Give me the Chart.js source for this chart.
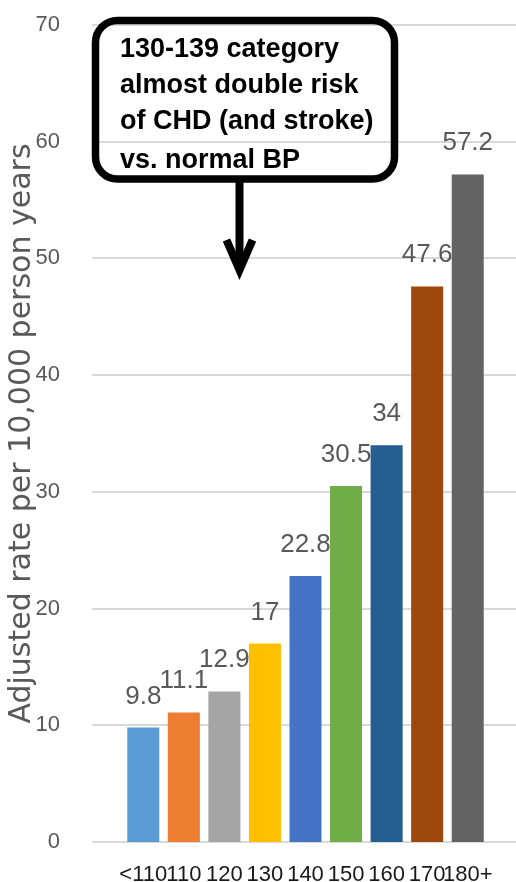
<!DOCTYPE html>
<html><head><meta charset="utf-8">
<script src="https://cdn.jsdelivr.net/npm/chart.js@4/dist/chart.umd.min.js"></script>
<style>html,body{margin:0;padding:0;background:#fff;overflow:hidden}#wrap{width:516px;height:882px;position:relative}canvas{display:block}</style>
</head><body><div id="wrap"><canvas id="c" width="516" height="882"></canvas></div>
<script>
const categories = ['<110', '110', '120', '130', '140', '150', '160', '170', '180+'];
const rates = [9.8, 11.1, 12.9, 17, 22.8, 30.5, 34, 47.6, 57.2];
const barColors = ['#5B9BD5', '#ED7D31', '#A5A5A5', '#FFC000', '#4472C4', '#70AD47', '#255E91', '#9E480E', '#636363'];
const yTicks = [0, 10, 20, 30, 40, 50, 60, 70];
const axisTitle = 'Adjusted rate per 10,000 person years';
const calloutLines = ['130-139 category', 'almost double risk', 'of CHD (and stroke)', 'vs. normal BP'];

const SANS = "'Liberation Sans', Arial, sans-serif";

const gridPlugin = {
  id: 'fullGrid',
  beforeDatasetsDraw(chart) {
    const {ctx, chartArea} = chart;
    const y = chart.scales.y;
    ctx.save();
    ctx.strokeStyle = '#D9D9D9';
    ctx.lineWidth = 2;
    y.ticks.forEach(t => {
      const py = Math.round(y.getPixelForValue(t.value));
      ctx.beginPath();
      ctx.moveTo(chartArea.left - 31, py);
      ctx.lineTo(chart.width, py);
      ctx.stroke();
    });
    ctx.restore();
  }
};

const labelPlugin = {
  id: 'valueLabels',
  afterDatasetsDraw(chart) {
    const {ctx} = chart;
    const meta = chart.getDatasetMeta(0);
    ctx.save();
    ctx.fillStyle = '#595959';
    ctx.font = '26px ' + SANS;
    ctx.textAlign = 'center';
    ctx.textBaseline = 'alphabetic';
    meta.data.forEach((el, i) => {
      ctx.fillText(String(rates[i]), el.x, el.y - 24);
    });
    ctx.restore();
  }
};

const calloutPlugin = {
  id: 'callout',
  afterDraw(chart) {
    const {ctx} = chart;
    ctx.save();
    const x0 = 95.5, y0 = 20.5, x1 = 394.5, y1 = 179, r = 22;
    ctx.strokeStyle = '#000';
    ctx.lineWidth = 7.5;
    ctx.beginPath();
    ctx.moveTo(x0 + r, y0);
    ctx.lineTo(x1 - r, y0);
    ctx.arcTo(x1, y0, x1, y0 + r, r);
    ctx.lineTo(x1, y1 - r);
    ctx.arcTo(x1, y1, x1 - r, y1, r);
    ctx.lineTo(x0 + r, y1);
    ctx.arcTo(x0, y1, x0, y1 - r, r);
    ctx.lineTo(x0, y0 + r);
    ctx.arcTo(x0, y0, x0 + r, y0, r);
    ctx.closePath();
    ctx.stroke();
    ctx.fillStyle = '#000';
    ctx.font = "bold 27px " + SANS;
    ctx.textAlign = 'left';
    ctx.textBaseline = 'alphabetic';
    const baselines = [57, 93, 129, 168];
    calloutLines.forEach((s, i) => ctx.fillText(s, 120, baselines[i]));
    const ax = 239.5;
    ctx.lineWidth = 8;
    ctx.beginPath();
    ctx.moveTo(ax, y1);
    ctx.lineTo(ax, 270);
    ctx.stroke();
    ctx.lineJoin = 'miter';
    ctx.beginPath();
    ctx.moveTo(ax - 13, 240);
    ctx.lineTo(ax, 270);
    ctx.lineTo(ax + 13, 240);
    ctx.stroke();
    ctx.restore();
  }
};

new Chart(document.getElementById('c'), {
  type: 'bar',
  data: {
    labels: categories,
    datasets: [{
      data: rates,
      backgroundColor: barColors,
      borderWidth: 0,
      barPercentage: 0.79,
      categoryPercentage: 1
    }]
  },
  options: {
    responsive: false,
    animation: false,
    devicePixelRatio: 1,
    layout: {padding: {left: 4, right: 28, top: 25, bottom: 0}},
    plugins: {legend: {display: false}, tooltip: {enabled: false}, title: {display: false}},
    scales: {
      x: {
        grid: {display: false},
        border: {display: false},
        ticks: {color: '#1A1A1A', font: {size: 22, family: SANS}, padding: 12, maxRotation: 0, minRotation: 0, autoSkip: false},
        afterFit(s) { s.height = 40; s.paddingLeft = 0; s.paddingRight = 0; }
      },
      y: {
        min: 0, max: 70,
        grid: {display: false},
        border: {display: false},
        ticks: {color: '#595959', font: {size: 22, family: SANS}, padding: 55},
        afterBuildTicks(s) { s.ticks = yTicks.map(v => ({value: v})); },
        afterFit(s) { s.width = 119; s.paddingTop = 0; s.paddingBottom = 0; },
        title: {display: true, text: axisTitle, color: '#595959', font: {size: 30, family: "'DejaVu Sans', sans-serif"}, padding: {top: 0, bottom: 0}}
      }
    }
  },
  plugins: [gridPlugin, labelPlugin, calloutPlugin]
});
</script></body></html>
